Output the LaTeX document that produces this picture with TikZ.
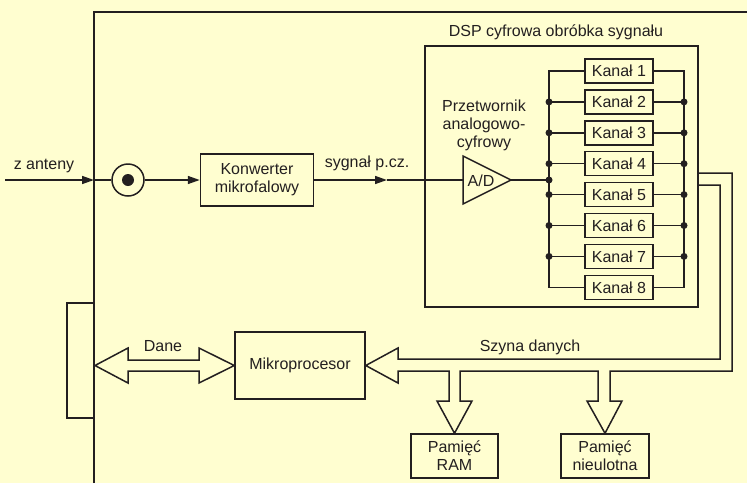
\documentclass[tikz,border=0pt]{standalone}
\usepackage{fontspec}
\setmainfont{Liberation Sans}
\usetikzlibrary{arrows.meta}
\definecolor{paper}{RGB}{255,254,208}
\definecolor{ink}{RGB}{35,31,32}

\begin{document}
\begin{tikzpicture}[x=1pt,y=-1pt,line width=1.5pt,draw=ink,
  txt/.style={inner sep=0pt,font=\fontsize{16}{18}\selectfont,text=ink,align=center},
  block/.style={txt,draw=ink,line width=1.5pt,rectangle},
  kanal/.style={block,minimum width=68pt,minimum height=24pt},
  arr/.style={-{Triangle[length=12pt,width=8pt]}},
  dot/.style={circle,fill=ink,draw=none,inner sep=0pt,minimum size=7pt}]

% background and frame
\fill[paper] (0,0) rectangle (747,483);
\useasboundingbox (0,0) rectangle (747,483);
\draw[ink] (94,483) -- (94,12) -- (747,12);
\draw[ink] (94,303) -- (67,303) -- (67,418) -- (94,418);

% antenna input and connector
\coordinate (antin) at (5,180);
\coordinate (wall) at (94,180);
\node[circle,draw=ink,minimum size=32pt,inner sep=0pt] (socket) at (128,180) {};
\node[dot,minimum size=12pt] (pin) at (128,180) {};
\draw[arr] (antin) -- (wall);
\draw (wall) -- (socket.west);
\node[txt] (lant) at (44,166) {z anteny};

% microwave converter
\node[block,minimum width=113pt,minimum height=52pt] (konw) at (257,180) {Konwerter\\mikrofalowy};
\draw[arr] (socket.east) -- (konw.west);

% DSP block
\draw[ink] (425,46) rectangle (698,307);
\node[txt] (ldsp) at (556,32) {DSP cyfrowa obróbka sygnału};

% A/D converter
\coordinate (adl) at (463,180);
\coordinate (adtip) at (511,180);
\draw[ink,line join=miter] (463,156) -- (511,180) -- (463,204) -- cycle;
\node[txt] (adlab) at (481,181) {A/D};
\node[txt] (lprz) at (484,125) {Przetwornik\\analogowo-\\cyfrowy};

\coordinate (pcz) at (387,180);
\draw[arr] (konw.east) -- (pcz);
\draw (pcz) -- (adl);
\node[txt] (lpcz) at (367,163) {sygnał p.cz.};

% channels
\foreach \i in {1,...,8}{
  \node[kanal] (k\i) at (619,{71+30.9*(\i-1)}) {Kanał \i};
}
\coordinate (lb1) at (549,71);
\coordinate (lb8) at (549,{71+30.9*7});
\coordinate (rb1) at (684,71);
\coordinate (rb8) at (684,{71+30.9*7});
\draw (k1.west) -- (lb1) -- (lb8) -- (k8.west);
\draw (k1.east) -- (rb1) -- (rb8) -- (k8.east);
\foreach \i in {2,...,7}{
  \node[dot] (ld\i) at (549,{71+30.9*(\i-1)}) {};
  \node[dot] (rd\i) at (684,{71+30.9*(\i-1)}) {};
  \draw (ld\i.center) -- (k\i.west);
  \draw (k\i.east) -- (rd\i.center);
}
\node[dot] (adjoin) at (549,180) {};
\draw (adtip) -- (adjoin.center);

% microprocessor
\node[block,minimum width=130pt,minimum height=67pt] (mp) at (300,365.5) {Mikroprocesor};

% data link to the slot (double hollow arrow)
\draw[ink,line join=miter,fill=paper]
  (95,365.5) -- (128,348) -- (128,360) -- (199,360) -- (199,348) -- (mp.west)
  -- (199,383) -- (199,371) -- (128,371) -- (128,383) -- cycle;
\node[txt] (ldane) at (163,346) {Dane};

% memories
\node[block,minimum width=87pt,minimum height=44pt] (ram) at (454.5,456) {Pamięć\\RAM};
\node[block,minimum width=88pt,minimum height=44pt] (rom) at (605,456) {Pamięć\\nieulotna};

% data bus from the DSP (hollow arrows)
\draw[ink,line join=miter]
  (698,173) -- (732,173) -- (732,371) -- (610,371) -- (610,401) -- (622,401)
  -- (rom.north) -- (587,401) -- (598,401) -- (598,371) -- (460,371)
  -- (460,401) -- (472,401) -- (ram.north) -- (437,401) -- (449,401)
  -- (449,371) -- (398,371) -- (398,383) -- (mp.east) -- (398,348)
  -- (398,359) -- (720,359) -- (720,185) -- (698,185);
\node[txt] (lszyna) at (530,347) {Szyna danych};

\end{tikzpicture}
\end{document}
